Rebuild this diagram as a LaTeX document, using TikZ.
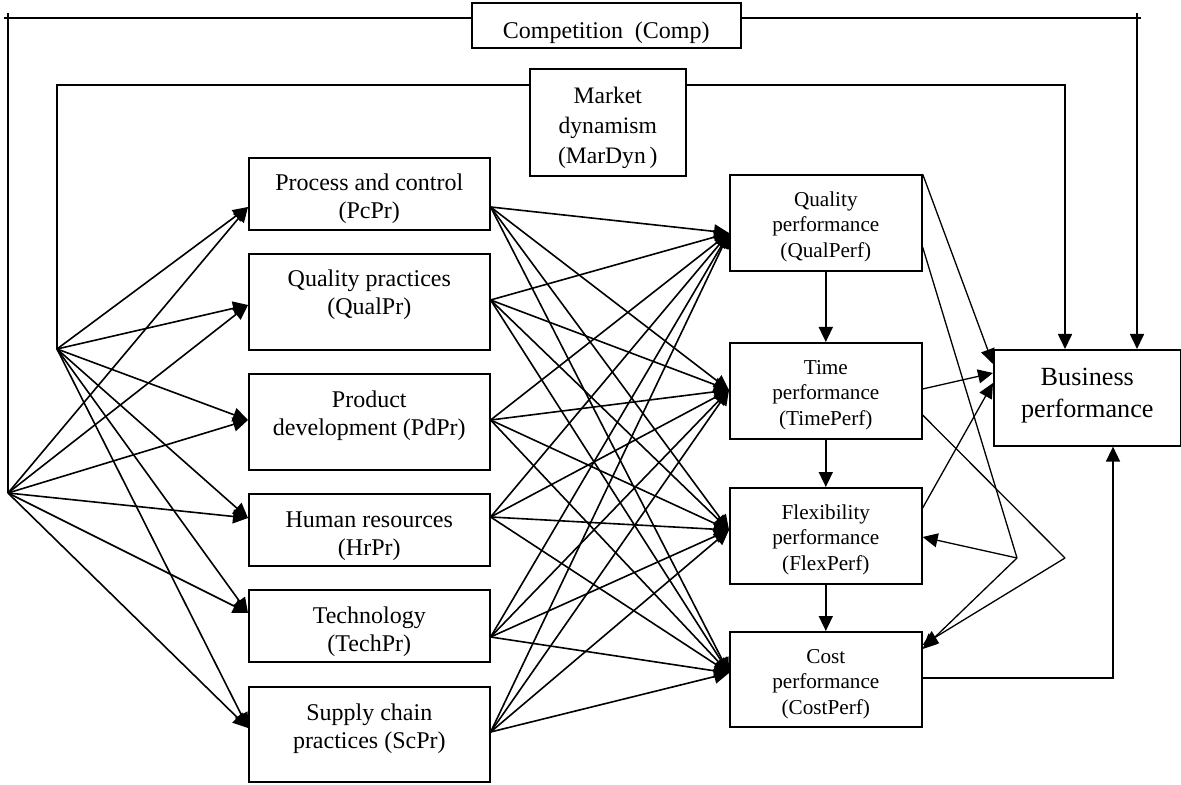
\documentclass[tikz,border=0pt]{standalone}
\usepackage{fontspec}
\setmainfont{Liberation Serif}
\usetikzlibrary{arrows.meta,calc}
\newcommand{\bt}[4]{\parbox[c][#2][t]{#1}{\centering\vspace*{#3}\strut#4\par}}
\begin{document}
\begin{tikzpicture}[x=0.5pt,y=-0.5pt, line width=0.8pt,
  box/.style={draw, inner sep=0pt, anchor=north west, line width=0.8pt},
  lft/.style={box, font=\fontsize{12}{14}\selectfont},
  prf/.style={box, font=\fontsize{10.6}{12.75}\selectfont},
  bsn/.style={box, font=\fontsize{13.1}{15.8}\selectfont},
  mkt/.style={box, font=\fontsize{11.8}{15}\selectfont},
  cmp/.style={box, font=\fontsize{12}{14}\selectfont},
  arr/.style={-{Triangle[length=7.5pt,width=7pt]}},
  thinl/.style={line width=0.65pt}
]
\useasboundingbox (0,0) rectangle (1181,785);

% top boxes
\node[cmp] (comp) at (471,2) {\bt{134.5pt}{22.5pt}{8pt}{Competition\ \ (Comp)}};
\node[mkt] (mk) at (529,68) {\bt{78pt}{53.5pt}{7pt}{Market\\dynamism\\(MarDyn\,)}};

% left boxes
\node[lft] (pc) at (248,157) {\bt{120.5pt}{36pt}{6.8pt}{Process and control\\(PcPr)}};
\node[lft] (qp) at (248,253) {\bt{120.5pt}{48pt}{6.8pt}{Quality practices\\(QualPr)}};
\node[lft] (pd) at (248,373) {\bt{120.5pt}{48pt}{6.8pt}{Product\\development (PdPr)}};
\node[lft] (hr) at (248,493) {\bt{120.5pt}{36pt}{6.8pt}{Human resources\\(HrPr)}};
\node[lft] (tp) at (248,589) {\bt{120.5pt}{36pt}{6.8pt}{Technology\\(TechPr)}};
\node[lft] (sc) at (248,686) {\bt{120.5pt}{47.5pt}{6.8pt}{Supply chain\\practices (ScPr)}};

% performance boxes
\node[prf] (qf) at (729,174) {\bt{96pt}{48pt}{6.8pt}{Quality\\performance\\(QualPerf)}};
\node[prf] (tf) at (729,342) {\bt{96pt}{48pt}{6.8pt}{Time\\performance\\(TimePerf)}};
\node[prf] (ff) at (729,487) {\bt{96pt}{48pt}{6.8pt}{Flexibility\\performance\\(FlexPerf)}};
\node[prf] (cf) at (729,631) {\bt{96pt}{47.5pt}{6.8pt}{Cost\\performance\\(CostPerf)}};

\node[bsn] (bus) at (993,349) {\bt{93.5pt}{48pt}{6.8pt}{Business\\performance}};

% ports
\coordinate (F1) at (57,349);
\coordinate (F2) at (8,493);
\coordinate (mkline) at (0,85);
\coordinate (cline) at (0,18);
\coordinate (pc-i) at ($(pc.north west)+(0,50)$);
\coordinate (qp-i) at ($(qp.north west)+(0,52)$);
\coordinate (pd-i) at ($(pd.north west)+(0,47)$);
\coordinate (hr-i) at ($(hr.north west)+(0,25)$);
\coordinate (tp-i) at ($(tp.north west)+(0,24)$);
\coordinate (sc-i) at ($(sc.north west)+(0,42)$);
\coordinate (pc-o) at ($(pc.north east)+(0,50)$);
\coordinate (qp-o) at ($(qp.north east)+(0,47)$);
\coordinate (pd-o) at ($(pd.north east)+(0,47)$);
\coordinate (hr-o) at ($(hr.north east)+(0,24)$);
\coordinate (tp-o) at ($(tp.north east)+(0,48)$);
\coordinate (sc-o) at ($(sc.north east)+(0,46)$);
\coordinate (qf-i) at ($(qf.north west)+(0,59)$);
\coordinate (tf-i) at ($(tf.north west)+(0,48)$);
\coordinate (ff-i) at ($(ff.north west)+(0,43)$);
\coordinate (cf-i) at ($(cf.north west)+(0,42)$);
\coordinate (bus-m) at ($(bus.north west)+(72,0)$);
\coordinate (bus-c) at ($(bus.north west)+(144,0)$);
\coordinate (bus-b) at ($(bus.south west)+(120,0)$);
\coordinate (V1) at (1017,558);
\coordinate (V2) at (1065,558);

% competition and market lines
\draw (F2) -- ($(F2 |- cline)+(0,-5)$);
\draw ($(F2 |- cline)+(-4,0)$) -- (comp.west |- cline);
\draw (comp.east |- cline) -- ($(bus-c |- cline)+(4,0)$);
\draw[arr] ($(bus-c |- cline)+(0,-5)$) -- (bus-c);
\draw (F1) |- (mk.west |- mkline);
\draw[arr] (mk.east |- mkline) -| (bus-m);

% fans into practices, practices into performance
\foreach \b in {pc,qp,pd,hr,tp,sc}{
  \draw[arr] (F1) -- (\b-i);
  \draw[arr] (F2) -- (\b-i);
  \foreach \p in {qf,tf,ff,cf}{\draw[arr] (\b-o) -- (\p-i);}
}

% performance chain
\draw[arr] (qf) -- (tf);
\draw[arr] (tf) -- (ff);
\draw[arr] (ff) -- (cf);

% into business performance
\draw[arr,thinl] (qf.north east) -- ($(bus.north west)+(0,15)$);
\draw[arr,thinl] ($(tf.north east)+(0,47)$) -- ($(bus.north west)+(0,24)$);
\draw[arr,thinl] ($(ff.north east)+(0,21)$) -- ($(bus.north west)+(0,34)$);
\draw[arr] ($(cf.north east)+(0,47)$) -| (bus-b);

% feedback paths
\draw[thinl] ($(qf.north east)+(0,73)$) -- (V1);
\draw[arr,thinl] (V1) -- ($(ff.north east)+(0,50)$);
\draw[arr,thinl] (V1) -- ($(cf.north east)+(0,18)$);
\draw[thinl] ($(tf.north east)+(0,73)$) -- (V2);
\draw[arr,thinl] (V2) -- ($(cf.north east)+(0,14)$);
\end{tikzpicture}
\end{document}
